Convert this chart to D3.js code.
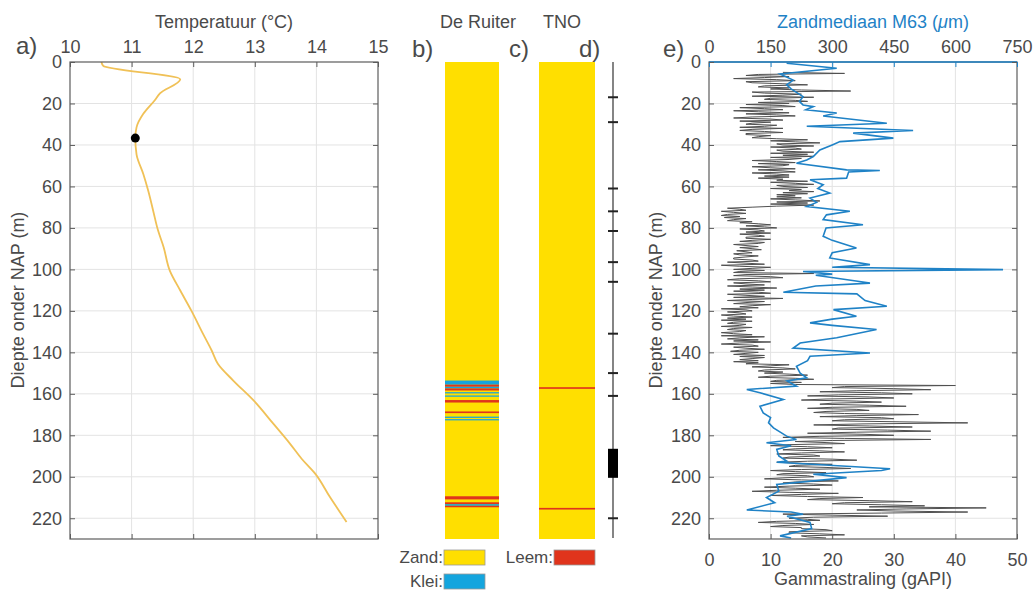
<!DOCTYPE html>
<html>
<head>
<meta charset="utf-8">
<script src="https://cdn.jsdelivr.net/npm/d3@7"></script>
<style>
  body { margin: 0; background: #fff; }
  text { font-family: "Liberation Sans", Arial, Helvetica, sans-serif; fill: #4a4a4a; }
</style>
</head>
<body>
<svg id="fig" width="1036" height="590"></svg>
<script>
// ---- a) temperature log ----
const tempDepth = [0, 1.9, 8.3, 15.1, 18.3, 25, 31.5, 36.7, 44.5, 54, 62.1, 71.7, 81.3, 89.3, 100.6,
  110.2, 119.9, 131.1, 139.1, 145.5, 153.6, 163.2, 174.4, 184, 191.3, 198.5, 209.8, 221.8];
const tempValue = [10.51, 10.54, 11.79, 11.46, 11.38, 11.19, 11.08, 11.06, 11.08, 11.19, 11.27, 11.35, 11.43, 11.52, 11.62,
  11.79, 11.97, 12.16, 12.3, 12.4, 12.65, 12.98, 13.3, 13.57, 13.76, 13.98, 14.22, 14.49];
const markerDepth = 36.7;
const markerTemp = 11.06;
const tempTicks = [10, 11, 12, 13, 14, 15];
const depthTicks = [0, 20, 40, 60, 80, 100, 120, 140, 160, 180, 200, 220];

// ---- b) / c) lithology columns: [top, bottom, type] ----
const ruiterLayers = [
  [0, 230, "zand"],
  [153.6, 155.6, "klei"],
  [155.6, 156.6, "leem"], [156.6, 157.4, "klei"], [157.4, 158.4, "leem"],
  [159.2, 159.8, "klei"], [160.8, 161.4, "klei"],
  [163.0, 164.2, "leem"],
  [168.5, 169.3, "leem"],
  [171.0, 171.6, "klei"], [172.2, 172.8, "klei"],
  [209.4, 210.9, "leem"],
  [212.3, 213.2, "leem"], [213.2, 214.0, "klei"], [214.0, 214.7, "leem"]
];
const tnoLayers = [
  [0, 230, "zand"],
  [156.8, 157.6, "leem"],
  [215.0, 215.8, "leem"]
];
const lithTypes = ["zand", "leem", "klei"];
const lithNames = ["Zand:", "Leem:", "Klei:"];

// ---- d) sample depths and filter ----
const sampleDepths = [17, 29, 61, 72, 81.5, 96.5, 106, 131, 150, 161, 220];
const filterTop = 186.5;
const filterBottom = 200.5;

// ---- e) gamma ray log (0.5 m samples from 5 m) and sand median M63 ----
const gammaStartDepth = 5;
const gammaStep = 0.5;
const gamma = [
  12, 22, 8, 6, 13, 9, 4, 11, 14, 6, 7, 12, 16, 9, 8, 13, 10, 15, 23, 7,
  9, 15, 12, 7, 17, 10, 9, 14, 16, 8, 13, 6, 12, 14, 5, 9, 12, 4, 8, 13,
  6, 11, 14, 7, 4, 10, 12, 5, 10, 7, 6, 11, 9, 5, 12, 7, 5, 9, 12, 6,
  6, 10, 8, 7, 11, 16, 10, 14, 18, 11, 12, 17, 10, 14, 15, 11, 12, 17, 10, 16,
  12, 17, 10, 15, 13, 7, 11, 14, 8, 13, 12, 7, 10, 14, 8, 12, 14, 7, 11, 13,
  9, 13, 8, 12, 11, 16, 10, 14, 17, 11, 12, 16, 10, 15, 13, 17, 12, 16, 11, 14,
  11, 15, 10, 14, 18, 11, 16, 10, 17, 11, 7, 3, 5, 6, 2, 4, 6, 3, 2, 5,
  2.5, 6, 4, 3, 7, 5, 8, 10, 6, 9, 11, 5, 8, 9, 6, 10, 5, 8, 9, 6,
  6, 10, 7, 5, 9, 8, 4, 6, 8, 5, 7, 8.5, 4.5, 6, 7, 4, 5, 8, 6, 4,
  4, 7, 8, 3, 6, 9, 2, 5, 10, 7, 4, 9, 5, 4, 17, 6, 4, 10, 12, 5,
  3, 8, 10, 4, 6, 9, 3, 7, 11, 5, 9, 4, 8, 10, 3, 6, 9, 4, 12, 7,
  3, 9, 6, 4, 10, 7, 5, 8, 2, 6, 7, 3, 5, 6, 2, 4, 7, 3, 6, 2,
  7, 4, 3, 6, 5, 2, 7, 4, 3, 6, 5, 2, 4, 7, 2, 9, 5, 3, 8, 4,
  10, 5, 2, 7, 8, 4, 6, 9, 5, 3.5, 8, 6, 4, 9, 5, 9, 7, 5, 8, 4,
  8, 6, 13, 10, 7, 12, 14, 9, 8, 12, 9, 13, 16, 10, 8, 14, 17, 11, 10, 15,
  10, 14, 40, 22, 20, 30, 36, 24, 18, 28, 33, 21, 16, 26, 30, 19, 15, 24, 28, 20,
  18, 26, 32, 20, 16, 24, 26, 19, 17, 22, 34, 24, 18, 28, 30, 22, 20, 31, 42, 25,
  17, 26, 33, 21, 20, 29, 36, 24, 16, 25, 30, 18, 12, 22, 36, 20, 14, 19, 22, 13,
  10, 16, 20, 14, 12, 18, 22, 15, 11, 17, 18, 13, 12, 20, 24, 16, 11, 15, 20, 14,
  13, 19, 23, 15, 10, 14, 19, 12, 11, 16, 17, 12, 9, 15, 21, 14, 12, 17, 20, 13,
  9, 14, 18, 11, 7, 13, 21, 15, 10, 16, 25, 18, 16, 26, 33, 22, 20, 28, 35, 26,
  45, 32, 24, 30, 42, 28, 12, 20, 29, 17, 13, 16, 18, 11, 8, 14, 17, 12, 10, 15,
  15, 19, 20, 13, 13, 18, 22, 15, 16, 19
];
const m63Depth = [0.6, 3, 5.8, 8.7, 11, 13, 16.7, 19, 20.7, 21.5, 23, 24.6, 26, 29.5, 31, 33, 34.3, 36.7, 38.4, 40,
  42.4, 45.6, 47.2, 48.8, 52, 52.3, 53, 56, 56.8, 59.2, 61, 63.2, 65.6, 67.7, 69.7, 72, 73.7, 76, 78.5, 80,
  84, 86, 89.7, 92, 94.5, 97.7, 99, 100.1, 101, 102.3, 102.8, 106.6, 108, 111, 111.8, 115, 117.8, 119.4, 122.6, 124,
  125.8, 127, 129, 133, 135.5, 137.9, 140.3, 141.9, 144, 146.7, 150, 152.3, 153.8, 156.3, 157.9, 159.5, 162.7, 166, 169.2, 171.4,
  174, 176.4, 180.4, 182, 183.6, 185, 186.8, 190, 192.4, 193, 196.1, 197, 198.8, 200.4, 203.7, 206.9, 210, 212.5, 216, 217,
  218.1, 219, 222, 225, 228.5, 229.5];
const m63Value = [189, 311, 173, 205, 189, 200, 229, 220, 229, 254, 236, 311, 278, 433, 238, 497, 351, 449, 319, 300,
  270, 254, 238, 213, 335, 416, 340, 335, 246, 278, 265, 294, 246, 262, 238, 343, 286, 278, 375, 285,
  278, 300, 359, 300, 294, 392, 300, 716, 229, 300, 260, 392, 260, 181, 360, 380, 433, 303, 359, 300,
  246, 300, 408, 311, 222, 205, 392, 246, 240, 213, 222, 238, 190, 213, 92, 124, 181, 124, 132, 150,
  145, 157, 189, 213, 140, 200, 165, 170, 189, 165, 441, 420, 254, 335, 165, 170, 140, 160, 92, 200,
  229, 190, 246, 250, 173, 200];
const gammaTicks = [0, 10, 20, 30, 40, 50];
const m63Ticks = [0, 150, 300, 450, 600, 750];

// ---- drawing ----
const svg = d3.select("#fig");
const axisColor = "#5c5c5c";
const gridColor = "#e3e3e3";
const textColor = "#4a4a4a";
const blue = "#1f82c6";
const fontSize = 18;
const fontFamily = "Liberation Sans, Arial, sans-serif";
const lithColor = { zand: "#ffdf00", leem: "#e0341c", klei: "#14a5de" };

const depthMax = 230;
const yTop = 62, yBottom = 539;
const yDepth = d3.scaleLinear().domain([0, depthMax]).range([yTop, yBottom]);

function styleTicks(ax, lineColor, labelColor) {
  ax.select(".domain").remove();
  ax.selectAll(".tick line").attr("stroke", lineColor);
  ax.selectAll(".tick text").attr("font-size", fontSize).attr("fill", labelColor)
    .attr("font-family", fontFamily);
}

function drawDepthGrid(g, x0, x1) {
  g.selectAll(null).data(depthTicks.slice(1)).join("line")
    .attr("x1", x0).attr("x2", x1)
    .attr("y1", d => yDepth(d)).attr("y2", d => yDepth(d))
    .attr("stroke", gridColor).attr("stroke-width", 1);
}

function depthAxes(x0, x1) {
  const ax = svg.append("g").attr("transform", `translate(${x0},0)`)
    .call(d3.axisLeft(yDepth).tickValues(depthTicks).tickSize(-5).tickPadding(8));
  styleTicks(ax, axisColor, textColor);
  const ax2 = svg.append("g").attr("transform", `translate(${x1},0)`)
    .call(d3.axisRight(yDepth).tickValues(depthTicks).tickSize(-5).tickFormat(""));
  styleTicks(ax2, axisColor, textColor);
}

function yLabel(x, y) {
  svg.append("text").attr("transform", `translate(${x},${y}) rotate(-90)`)
    .attr("text-anchor", "middle").attr("font-size", fontSize)
    .text("Diepte onder NAP (m)");
}

// ===== Panel a: temperature =====
{
  const x0 = 70, x1 = 378;
  const xT = d3.scaleLinear().domain([10, 15]).range([x0, x1]);
  const g = svg.append("g");
  g.selectAll(null).data(tempTicks.slice(1, -1)).join("line")
    .attr("x1", d => xT(d)).attr("x2", d => xT(d)).attr("y1", yTop).attr("y2", yBottom)
    .attr("stroke", gridColor);
  drawDepthGrid(g, x0, x1);

  const line = d3.line().x((d, i) => xT(tempValue[i])).y(d => yDepth(d)).curve(d3.curveMonotoneY);
  g.append("path").datum(tempDepth).attr("d", line)
    .attr("fill", "none").attr("stroke", "#f0c157").attr("stroke-width", 1.8);
  g.append("circle").attr("cx", xT(markerTemp)).attr("cy", yDepth(markerDepth)).attr("r", 4.5).attr("fill", "#000");

  g.append("rect").attr("x", x0).attr("y", yTop).attr("width", x1 - x0).attr("height", yBottom - yTop)
    .attr("fill", "none").attr("stroke", axisColor).attr("stroke-width", 1.2);

  const top = svg.append("g").attr("transform", `translate(0,${yTop})`)
    .call(d3.axisTop(xT).tickValues(tempTicks).tickFormat(d3.format("d")).tickSize(-5).tickPadding(9));
  styleTicks(top, axisColor, textColor);
  const bot = svg.append("g").attr("transform", `translate(0,${yBottom})`)
    .call(d3.axisBottom(xT).tickValues(tempTicks).tickSize(-5).tickFormat(""));
  styleTicks(bot, axisColor, textColor);
  depthAxes(x0, x1);

  svg.append("text").attr("x", (x0 + x1) / 2).attr("y", 28).attr("text-anchor", "middle")
    .attr("font-size", fontSize).text("Temperatuur (°C)");
  yLabel(24, 300);
  svg.append("text").attr("x", 16).attr("y", 54).attr("font-size", 24).text("a)");
}

// ===== Panels b, c: lithology; d: samples =====
{
  const cols = [
    { layers: ruiterLayers, x0: 445, x1: 499, title: "De Ruiter", tx: 478, label: "b)", lx: 412 },
    { layers: tnoLayers, x0: 539, x1: 595, title: "TNO", tx: 562, label: "c)", lx: 509 }
  ];
  cols.forEach(c => {
    svg.append("g").selectAll(null).data(c.layers).join("rect")
      .attr("x", c.x0).attr("width", c.x1 - c.x0)
      .attr("y", d => yDepth(d[0])).attr("height", d => yDepth(d[1]) - yDepth(d[0]))
      .attr("fill", d => lithColor[d[2]]);
    svg.append("text").attr("x", c.tx).attr("y", 28).attr("text-anchor", "middle")
      .attr("font-size", fontSize).text(c.title);
    svg.append("text").attr("x", c.lx).attr("y", 57).attr("font-size", 24).text(c.label);
  });
  svg.append("text").attr("x", 579).attr("y", 57).attr("font-size", 24).text("d)");

  const xd = 613;
  const gd = svg.append("g");
  gd.append("line").attr("x1", xd).attr("x2", xd).attr("y1", yDepth(0)).attr("y2", yDepth(229.5))
    .attr("stroke", "#333").attr("stroke-width", 1.2);
  gd.selectAll(null).data(sampleDepths).join("line")
    .attr("x1", xd - 5).attr("x2", xd + 5)
    .attr("y1", d => yDepth(d)).attr("y2", d => yDepth(d))
    .attr("stroke", "#222").attr("stroke-width", 2);
  gd.append("rect").attr("x", xd - 5).attr("width", 10)
    .attr("y", yDepth(filterTop)).attr("height", yDepth(filterBottom) - yDepth(filterTop))
    .attr("fill", "#000");

  const legendPos = [[444, 550], [554, 550], [444, 574]];
  lithTypes.forEach((t, i) => {
    const [lx, ly] = legendPos[i];
    svg.append("rect").attr("x", lx).attr("y", ly).attr("width", 41).attr("height", 15)
      .attr("fill", lithColor[t]).attr("stroke", "#9a9a9a").attr("stroke-width", 0.8);
    svg.append("text").attr("x", lx - 1).attr("y", ly + 13).attr("text-anchor", "end")
      .attr("font-size", 17).text(lithNames[i]);
  });
}

// ===== Panel e: gamma ray and sand median =====
{
  const x0 = 709, x1 = 1017;
  const xG = d3.scaleLinear().domain([0, 50]).range([x0, x1]);
  const xM = d3.scaleLinear().domain([0, 750]).range([x0, x1]);
  const g = svg.append("g");
  g.selectAll(null).data(gammaTicks.slice(1, -1)).join("line")
    .attr("x1", d => xG(d)).attr("x2", d => xG(d)).attr("y1", yTop).attr("y2", yBottom)
    .attr("stroke", gridColor);
  drawDepthGrid(g, x0, x1);

  const gLine = d3.line().x(d => xG(d)).y((d, i) => yDepth(gammaStartDepth + i * gammaStep));
  g.append("path").datum(gamma).attr("d", gLine)
    .attr("fill", "none").attr("stroke", "#505050").attr("stroke-width", 1);

  const mLine = d3.line().x((d, i) => xM(m63Value[i])).y(d => yDepth(d));
  g.append("path").datum(m63Depth).attr("d", mLine)
    .attr("fill", "none").attr("stroke", blue).attr("stroke-width", 1.6);

  g.append("rect").attr("x", x0).attr("y", yTop).attr("width", x1 - x0).attr("height", yBottom - yTop)
    .attr("fill", "none").attr("stroke", axisColor).attr("stroke-width", 1.2);
  g.append("line").attr("x1", x0).attr("x2", x1).attr("y1", yTop).attr("y2", yTop)
    .attr("stroke", blue).attr("stroke-width", 1.5);

  const top = svg.append("g").attr("transform", `translate(0,${yTop})`)
    .call(d3.axisTop(xM).tickValues(m63Ticks).tickSize(-5).tickPadding(9));
  styleTicks(top, blue, blue);
  const bot = svg.append("g").attr("transform", `translate(0,${yBottom})`)
    .call(d3.axisBottom(xG).tickValues(gammaTicks).tickSize(-5).tickPadding(14));
  styleTicks(bot, axisColor, textColor);
  depthAxes(x0, x1);

  const tt = svg.append("text").attr("x", 873).attr("y", 28).attr("text-anchor", "middle")
    .attr("font-size", fontSize).style("fill", blue);
  tt.append("tspan").text("Zandmediaan M63 (");
  tt.append("tspan").attr("font-style", "italic").text("μ");
  tt.append("tspan").text("m)");
  svg.append("text").attr("x", 863).attr("y", 585).attr("text-anchor", "middle")
    .attr("font-size", fontSize).text("Gammastraling (gAPI)");
  yLabel(662, 300);
  svg.append("text").attr("x", 663).attr("y", 57).attr("font-size", 24).text("e)");
}
</script>
</body>
</html>
